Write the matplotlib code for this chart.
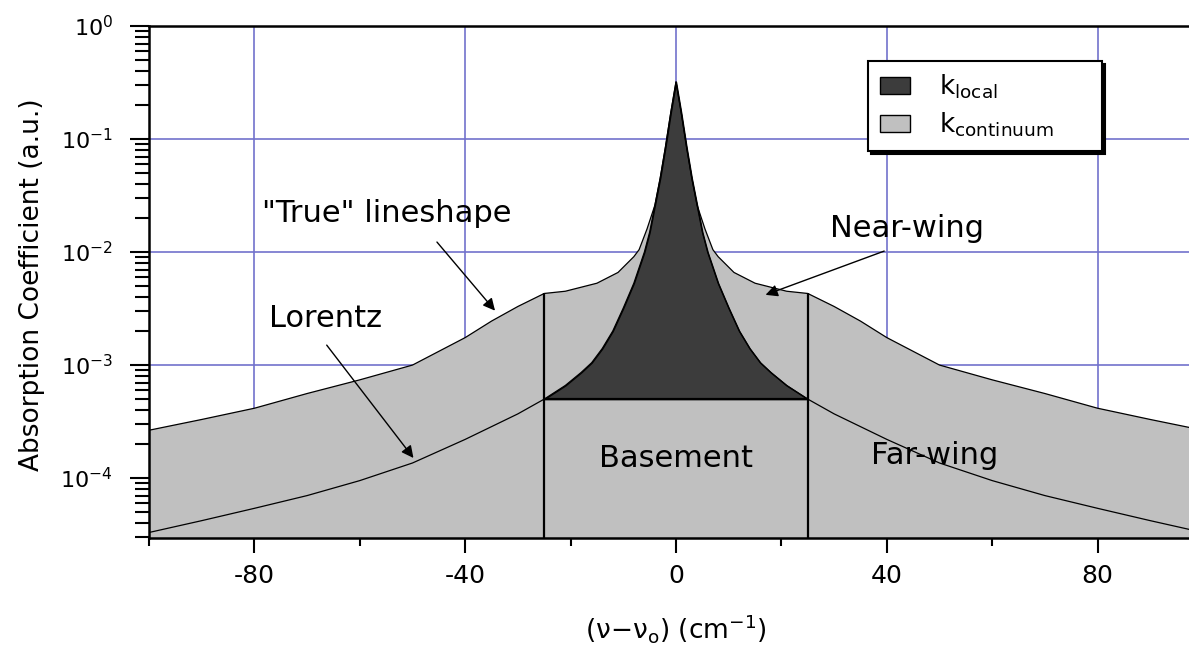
import matplotlib
matplotlib.use("Agg")
import matplotlib.pyplot as plt
import numpy as np
from matplotlib.patches import Patch
from matplotlib.ticker import LogLocator, NullFormatter, MultipleLocator

plt.rcParams["axes.unicode_minus"] = False

# Lorentz profile (local part inside the +/-25 cm-1 window)
offset = [-100, -90, -80, -70, -60, -50, -40, -30, -25, -21, -18, -16, -14, -12, -10,
          -8, -6, -5, -4, -3, -2, -1, 0, 1, 2, 3, 4, 5, 6, 8, 10, 12, 14, 16, 18,
          21, 25, 30, 40, 50, 60, 70, 80, 90, 100]
lorentz = [3.3e-5, 4.2e-5, 5.4e-5, 7.0e-5, 9.5e-5, 1.36e-4, 2.2e-4, 3.7e-4, 5.0e-4,
           6.6e-4, 8.6e-4, 1.05e-3, 1.4e-3, 2.0e-3, 3.2e-3, 5.3e-3, 1.0e-2, 1.5e-2,
           2.6e-2, 4.5e-2, 8.5e-2, 1.7e-1, 3.2e-1, 1.7e-1, 8.5e-2, 4.5e-2, 2.6e-2,
           1.5e-2, 1.0e-2, 5.3e-3, 3.2e-3, 2.0e-3, 1.4e-3, 1.05e-3, 8.6e-4, 6.6e-4,
           5.0e-4, 3.7e-4, 2.2e-4, 1.36e-4, 9.5e-5, 7.0e-5, 5.4e-5, 4.2e-5, 3.3e-5]

# "true" line shape (top of the continuum)
true_offset = [-100, -90, -80, -70, -60, -50, -40, -35, -30, -25, -21, -15, -11, -8, -7,
               -5.5, -4, -3, -2, -1, 0, 1, 2, 3, 4, 5.5, 7, 8, 11, 15, 21, 25,
               30, 35, 40, 50, 60, 70, 80, 90, 100]
true_shape = [2.65e-4, 3.3e-4, 4.15e-4, 5.6e-4, 7.4e-4, 1.0e-3, 1.75e-3, 2.45e-3, 3.3e-3,
              4.3e-3, 4.5e-3, 5.3e-3, 6.6e-3, 9.1e-3, 1.05e-2, 1.6e-2, 2.6e-2, 4.5e-2,
              8.5e-2, 1.7e-1, 3.2e-1, 1.7e-1, 8.5e-2, 4.5e-2, 2.6e-2, 1.6e-2, 1.05e-2,
              9.1e-3, 6.6e-3, 5.3e-3, 4.5e-3, 4.3e-3, 3.3e-3, 2.45e-3, 1.75e-3, 1.0e-3,
              7.4e-4, 5.6e-4, 4.15e-4, 3.3e-4, 2.65e-4]

basement = 5.0e-4
cutoff = 25

y_ticks = [1e-4, 1e-3, 1e-2, 1e-1, 1e0]
y_tick_labels = ["10$^{-4}$", "10$^{-3}$", "10$^{-2}$", "10$^{-1}$", "10$^{0}$"]
x_ticks = [-80, -40, 0, 40, 80]

DARK = "#3c3c3c"
LIGHT = "#c0c0c0"
GRID = "#7272cc"

x = np.array(offset, dtype=float)
lor = np.array(lorentz)
tx = np.array(true_offset, dtype=float)
ty = np.array(true_shape)

fig = plt.figure(figsize=(11.89, 6.45), dpi=100)
ax = fig.add_axes([149 / 1189, 107 / 645, 1054 / 1189, 512 / 645])
ax.set_yscale("log")
ax.set_xlim(-100, 100)
ax.set_ylim(2.95e-5, 1)

# continuum fills everything under the true line shape
ax.fill_between(tx, 1e-6, ty, facecolor=LIGHT, lw=0, zorder=1)
# local part sits on the basement inside the window
inside = np.abs(x) <= cutoff
ax.fill_between(x[inside], basement, lor[inside], facecolor=DARK,
                edgecolor="black", lw=1.0, zorder=2)

ax.plot(x, lor, color="black", lw=0.9, zorder=3)
ax.plot(tx, ty, color="black", lw=0.9, zorder=3)
edge_top = np.interp([-cutoff, cutoff], tx, ty)
ax.vlines([-cutoff, cutoff], 1e-6, edge_top, colors="black", lw=1.6, zorder=3)
ax.hlines(basement, -cutoff, cutoff, colors="black", lw=1.6, zorder=3)

ax.set_axisbelow(True)
ax.grid(True, which="major", color=GRID, lw=1.2)

ax.set_xticks(x_ticks)
ax.xaxis.set_minor_locator(MultipleLocator(20))
ax.set_yticks(y_ticks, labels=y_tick_labels)
ax.yaxis.set_minor_locator(LogLocator(base=10, subs=np.arange(2, 10)))
ax.yaxis.set_minor_formatter(NullFormatter())

for side in ["left", "bottom", "top", "right"]:
    ax.spines[side].set_linewidth(1.8)
ax.tick_params(axis="y", which="major", direction="out", length=14, width=1.5,
               pad=12, labelsize=16)
ax.tick_params(axis="y", which="minor", direction="out", length=10, width=1.5)
ax.tick_params(axis="x", which="major", direction="out", length=11, width=1.5,
               pad=8, labelsize=18)
ax.tick_params(axis="x", which="minor", direction="out", length=6, width=1.5)

ax.set_ylabel("Absorption Coefficient (a.u.)", fontsize=19, va="center")
ax.yaxis.set_label_coords(-0.111, 0.494)
ax.set_xlabel("(ν−ν$_{\\rm o}$) (cm$^{-1}$)", fontsize=19, va="center")
ax.xaxis.set_label_coords(0.5, -0.176)

# labels and arrows
arrow = dict(arrowstyle="-|>", color="black", lw=1.0, mutation_scale=18)
ax.text(-54.8, 2.2e-2, '"True" lineshape', fontsize=22, ha="center", va="center")
ax.annotate("", xy=(-34, 2.9e-3), xytext=(-45.7, 1.28e-2), arrowprops=arrow)
ax.text(-66.6, 2.6e-3, "Lorentz", fontsize=22, ha="center", va="center")
ax.annotate("", xy=(-49.5, 1.44e-4), xytext=(-66.6, 1.57e-3), arrowprops=arrow)
ax.text(43.8, 1.63e-2, "Near-wing", fontsize=22, ha="center", va="center")
ax.annotate("", xy=(16.5, 4.1e-3), xytext=(40, 1.04e-2), arrowprops=arrow)
ax.text(49.1, 1.6e-4, "Far-wing", fontsize=22, ha="center", va="center", zorder=4)
ax.text(0, 1.5e-4, "Basement", fontsize=22, ha="center", va="center", zorder=4)

handles = [Patch(facecolor=DARK, edgecolor="black", lw=1.0),
           Patch(facecolor=LIGHT, edgecolor="black", lw=1.0)]
leg = ax.legend(handles, ["k$_{\\rm local}$", "k$_{\\rm continuum}$"],
                loc="upper left", bbox_to_anchor=(0.682, 0.932, 0.222, 0.0),
                mode="expand", borderaxespad=0,
                fontsize=19, fancybox=False, framealpha=1, edgecolor="black",
                handlelength=1.15, handleheight=0.6, handletextpad=1.1,
                borderpad=0.45, labelspacing=0.35,
                shadow={"color": "black", "alpha": 1})
leg.get_frame().set_linewidth(1.5)

fig.savefig("out.png", dpi=100)
